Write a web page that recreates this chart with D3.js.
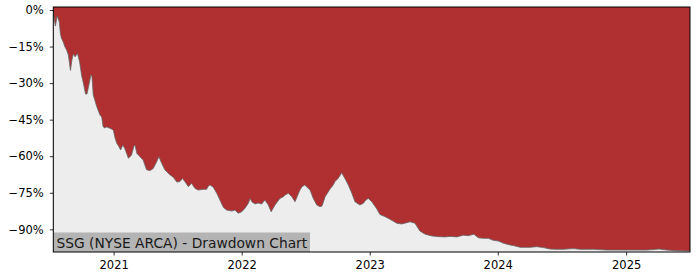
<!DOCTYPE html>
<html><head><meta charset="utf-8">
<script src="https://cdn.jsdelivr.net/npm/d3@7"></script>
<style>html,body{margin:0;padding:0;background:#fff;}svg{display:block;font-family:"DejaVu Sans",sans-serif;}</style>
</head><body><svg id="c" width="700" height="280"></svg>
<script>
const title = "SSG (NYSE ARCA) - Drawdown Chart";
const dates = ["2020-07-13","2020-07-16","2020-07-19","2020-07-24","2020-07-30","2020-08-02","2020-08-05","2020-08-10","2020-08-15","2020-08-20","2020-08-25","2020-08-31","2020-09-04","2020-09-08","2020-09-13","2020-09-20","2020-09-26","2020-10-02","2020-10-06","2020-10-13","2020-10-17","2020-10-23","2020-10-28","2020-10-31","2020-11-04","2020-11-14","2020-11-23","2020-11-28","2020-12-02","2020-12-07","2020-12-12","2020-12-21","2020-12-31","2021-01-05","2021-01-10","2021-01-15","2021-01-21","2021-01-27","2021-02-01","2021-02-05","2021-02-12","2021-02-16","2021-02-21","2021-02-28","2021-03-03","2021-03-08","2021-03-17","2021-03-26","2021-03-31","2021-04-05","2021-04-15","2021-04-24","2021-05-04","2021-05-10","2021-05-18","2021-05-27","2021-06-11","2021-06-20","2021-06-30","2021-07-09","2021-07-16","2021-07-23","2021-08-02","2021-08-11","2021-08-21","2021-08-30","2021-09-13","2021-09-23","2021-09-28","2021-10-03","2021-10-12","2021-10-22","2021-10-31","2021-11-10","2021-11-19","2021-12-04","2021-12-13","2021-12-22","2022-01-01","2022-01-10","2022-01-20","2022-01-25","2022-01-30","2022-02-08","2022-02-17","2022-02-27","2022-03-08","2022-03-18","2022-03-26","2022-04-06","2022-04-20","2022-04-29","2022-05-05","2022-05-14","2022-05-24","2022-06-02","2022-06-16","2022-06-22","2022-06-30","2022-07-15","2022-07-24","2022-08-03","2022-08-12","2022-08-18","2022-08-27","2022-09-10","2022-09-19","2022-09-24","2022-10-03","2022-10-13","2022-10-23","2022-11-01","2022-11-11","2022-11-20","2022-12-04","2022-12-14","2022-12-21","2022-12-28","2023-01-07","2023-01-21","2023-01-30","2023-02-14","2023-02-28","2023-03-19","2023-04-02","2023-04-16","2023-04-26","2023-05-10","2023-05-24","2023-06-08","2023-06-27","2023-07-16","2023-08-04","2023-08-18","2023-09-06","2023-09-25","2023-10-09","2023-10-25","2023-11-07","2023-11-21","2023-12-05","2023-12-19","2024-01-03","2024-01-17","2024-02-05","2024-02-19","2024-03-05","2024-04-02","2024-04-21","2024-05-10","2024-05-29","2024-06-17","2024-07-06","2024-08-03","2024-08-23","2024-09-30","2024-11-07","2024-12-15","2025-01-22","2025-03-01","2025-04-05","2025-04-27","2025-05-25","2025-07-02"];
const drawdown = [0,-4.1,-6.6,-2.5,-4.8,-9.4,-11.5,-13.0,-15.1,-16.4,-18.5,-24.8,-20.5,-18.1,-19.2,-17.8,-21.3,-27.1,-29.5,-34.5,-34.5,-30.4,-26.7,-27.1,-34.9,-39.7,-43.1,-43.9,-47.9,-48.4,-48.0,-48.5,-49.2,-52.5,-54.7,-55.8,-57.4,-55.4,-56.6,-58.1,-60.8,-60.3,-59.5,-55.8,-55.4,-58.8,-60.2,-61.5,-63.6,-65.6,-65.9,-65.0,-62.2,-60.2,-62.9,-65.6,-67.7,-68.6,-70.6,-70.4,-69.1,-70.4,-72.5,-71.1,-73.2,-73.9,-73.6,-73.6,-72.2,-71.8,-72.7,-75.2,-78.0,-81.0,-82.1,-82.5,-82.1,-83.4,-82.8,-81.4,-79.3,-77.3,-78.7,-79.6,-79.2,-79.6,-78.0,-80.0,-82.8,-80.0,-77.3,-76.7,-75.9,-75.2,-76.6,-78.7,-73.9,-72.5,-71.8,-73.9,-77.3,-80.0,-80.7,-80.4,-76.6,-73.4,-71.8,-70.4,-69.1,-66.8,-69.3,-71.8,-75.2,-78.7,-80.0,-79.3,-78.0,-77.3,-78.7,-81.6,-83.9,-84.8,-85.9,-87.5,-87.8,-87.3,-86.9,-87.5,-90.7,-92.0,-92.7,-93.0,-93.1,-92.9,-93.1,-92.4,-92.6,-92.0,-93.5,-93.7,-93.7,-94.5,-94.8,-95.7,-96.4,-96.8,-97.4,-97.4,-97.1,-97.5,-98.1,-98.2,-98.2,-97.9,-98.2,-98.2,-98.5,-98.5,-98.5,-98.5,-98.1,-98.5,-98.8,-98.9];
const yTicks = [0,-15,-30,-45,-60,-75,-90];
const xTickYears = ["2021","2022","2023","2024","2025"];

const parse = d3.timeParse("%Y-%m-%d");
const data = dates.map((d,i)=>({date:parse(d), v:drawdown[i]}));

const m = {l:53.3, r:690, t:7, b:252};
const svg = d3.select("#c");
const x = d3.scaleTime().domain([parse("2020-07-13"), parse("2025-07-02")]).range([m.l, m.r]);
const y = d3.scaleLinear().domain([-99.3, 1.23]).range([m.b, m.t]);

svg.append("defs").append("clipPath").attr("id","clip")
  .append("rect").attr("x",m.l).attr("y",m.t).attr("width",m.r-m.l).attr("height",m.b-m.t);

const g = svg.append("g").attr("clip-path","url(#clip)");
g.append("rect").attr("x",m.l).attr("y",m.t).attr("width",m.r-m.l).attr("height",m.b-m.t).attr("fill","#b03031");
g.append("path").datum(data)
  .attr("d", d3.area().x(d=>x(d.date)).y0(m.b).y1(d=>y(d.v)))
  .attr("fill","#ededed");
g.append("path").datum(data)
  .attr("d", d3.line().x(d=>x(d.date)).y(d=>y(d.v)))
  .attr("fill","none").attr("stroke","#666").attr("stroke-width",0.8);

// title box
const tg = svg.append("g");
const tt = tg.append("text").attr("x",56.5).attr("y",247.5).attr("font-size",13.8).attr("fill","#1a1a1a").text(title);
const bw = tt.node().getComputedTextLength();
tg.insert("rect","text").attr("x",m.l).attr("y",232.5).attr("width",bw+6).attr("height",m.b-232.5).attr("fill","#b4b4b4");

// axes
const fmt = v => (v<0 ? "\u2212" + Math.abs(v) : v) + "%";
const yAxis = svg.append("g").attr("transform",`translate(${m.l},0)`)
  .call(d3.axisLeft(y).tickValues(yTicks).tickFormat(fmt).tickSizeOuter(0).tickSize(3.5).tickPadding(6));
const xAxis = svg.append("g").attr("transform",`translate(0,${m.b})`)
  .call(d3.axisBottom(x).tickValues(xTickYears.map(s=>parse(s+"-01-01"))).tickFormat(d3.timeFormat("%Y")).tickSizeOuter(0).tickSize(3.5).tickPadding(5));
[yAxis,xAxis].forEach(a=>{
  a.selectAll("text").attr("font-size",11.5).attr("font-family","DejaVu Sans").attr("fill","#000");
  a.selectAll("line").attr("stroke","#000").attr("stroke-width",0.8);
  a.select(".domain").remove();
});
// frame
svg.append("rect").attr("x",m.l).attr("y",m.t).attr("width",m.r-m.l).attr("height",m.b-m.t)
  .attr("fill","none").attr("stroke","#000").attr("stroke-width",1);
</script></body></html>
